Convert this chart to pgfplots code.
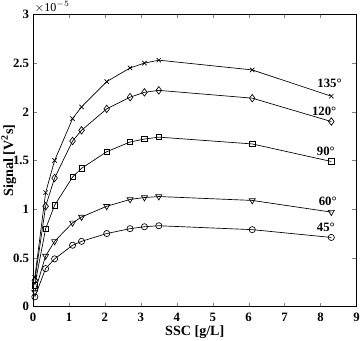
\documentclass[border=0pt]{standalone}
\usepackage{pgfplots}
\pgfplotsset{compat=1.18}
\usepackage{fontspec}
\setmainfont{Liberation Serif}
\begin{document}
\begin{tikzpicture}
\begin{axis}[
  scale only axis,
  width=240.75pt, height=217.5pt,
  xmin=0, xmax=9, ymin=0, ymax=3,
  xtick={0,1,...,9}, ytick={0,0.5,1,1.5,2,2.5,3},
  xticklabels={0,1,2,3,4,5,6,7,8,9},
  yticklabels={0,0.5,1,1.5,2,2.5,3},
  tick align=inside,
  tick pos=both,
  major tick length=3pt,
  tick label style={font=\bfseries\fontsize{9.5}{10}\selectfont},
  yticklabel style={xshift=0.5pt},
  xticklabel style={yshift=-1pt, inner xsep=1pt},
  xlabel={\bfseries SSC [g/L]},
  ylabel={\bfseries Signal [V\textsuperscript{2}s]},
  label style={font=\bfseries\fontsize{10.5}{11}\selectfont},
  xlabel style={yshift=1pt, inner sep=1pt},
  ylabel style={yshift=-7pt, inner sep=1pt},
  clip=false,
]
\addplot[black, line width=0.5pt, mark=x, mark size=2.3pt, mark options={solid}] coordinates {
(0.05,0.30) (0.35,1.17) (0.6,1.50) (1.1,1.93) (1.35,2.05) (2.05,2.31) (2.7,2.45) (3.1,2.50) (3.5,2.53) (6.1,2.43) (8.3,2.16)};
\addplot[black, line width=0.5pt, mark=diamond, mark size=2.8pt, mark options={solid, fill=white}] coordinates {
(0.05,0.27) (0.35,1.03) (0.6,1.32) (1.1,1.70) (1.35,1.81) (2.05,2.03) (2.7,2.15) (3.1,2.20) (3.5,2.22) (6.1,2.14) (8.3,1.90)};
\addplot[black, line width=0.5pt, mark=square, mark size=2.0pt, mark options={solid, fill=white}] coordinates {
(0.05,0.22) (0.35,0.80) (0.6,1.04) (1.1,1.33) (1.35,1.42) (2.05,1.59) (2.7,1.69) (3.1,1.72) (3.5,1.74) (6.1,1.67) (8.3,1.49)};
\addplot[black, line width=0.5pt, mark=triangle, mark size=2.6pt, mark options={solid, fill=white, rotate=180}] coordinates {
(0.05,0.15) (0.35,0.52) (0.6,0.67) (1.1,0.86) (1.35,0.92) (2.05,1.03) (2.7,1.10) (3.1,1.12) (3.5,1.13) (6.1,1.09) (8.3,0.97)};
\addplot[black, line width=0.5pt, mark=o, mark size=2.3pt, mark options={solid, fill=white}] coordinates {
(0.05,0.10) (0.35,0.39) (0.6,0.49) (1.1,0.63) (1.35,0.67) (2.05,0.75) (2.7,0.80) (3.1,0.82) (3.5,0.83) (6.1,0.79) (8.3,0.71)};
\node[font=\bfseries\fontsize{9.5}{10}\selectfont] at (axis cs:8.25,2.29) {135°};
\node[font=\bfseries\fontsize{9.5}{10}\selectfont] at (axis cs:8.1,2.00) {120°};
\node[font=\bfseries\fontsize{9.5}{10}\selectfont] at (axis cs:8.15,1.59) {90°};
\node[font=\bfseries\fontsize{9.5}{10}\selectfont] at (axis cs:8.2,1.08) {60°};
\node[font=\bfseries\fontsize{9.5}{10}\selectfont] at (axis cs:8.15,0.81) {45°};
\node[anchor=south west, inner sep=1pt, font=\fontsize{9}{10}\selectfont] at (rel axis cs:0,1) {$\times\mathrm{10}^{-5}$};
\end{axis}
\end{tikzpicture}
\end{document}
